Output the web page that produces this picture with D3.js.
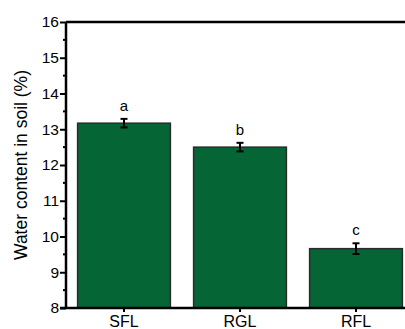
<!DOCTYPE html>
<html>
<head>
<meta charset="utf-8">
<script src="https://cdn.jsdelivr.net/npm/d3@7"></script>
<style>
  body { margin: 0; background: #fff; }
  svg { display: block; font-family: Arial, 'Liberation Sans', sans-serif; }
</style>
</head>
<body>
<svg id="chart" width="405" height="329"></svg>
<script>
// values
const groups  = ['SFL', 'RGL', 'RFL'];
const means   = [13.17, 12.50, 9.66];
const errors  = [0.12, 0.12, 0.15];
const letters = ['a', 'b', 'c'];
const yTicks  = [8, 9, 10, 11, 12, 13, 14, 15, 16];

const svg = d3.select('#chart');
const plotL = 66, plotR = 414, plotT = 22, plotB = 308;

const x = d3.scaleBand()
  .domain(groups)
  .range([plotL, plotR])
  .paddingInner(0.2)
  .paddingOuter(0.1);

const y = d3.scaleLinear()
  .domain([8, 16])
  .range([plotB, plotT]);

// bars
svg.append('g')
  .selectAll('rect')
  .data(groups)
  .join('rect')
    .attr('x', (d) => x(d))
    .attr('y', (d, i) => y(means[i]))
    .attr('width', x.bandwidth())
    .attr('height', (d, i) => plotB - y(means[i]))
    .attr('fill', '#066535')
    .attr('stroke', '#2b2b2b')
    .attr('stroke-width', 1.5);

// error bars
const err = svg.append('g')
  .attr('stroke', '#000')
  .attr('stroke-width', 2)
  .selectAll('g')
  .data(groups)
  .join('g')
    .attr('transform', (d) => `translate(${x(d) + x.bandwidth() / 2},0)`);

err.append('line')
  .attr('y1', (d, i) => y(means[i] + errors[i]))
  .attr('y2', (d, i) => y(means[i] - errors[i]));

err.append('line')
  .attr('x1', -3.5).attr('x2', 3.5)
  .attr('y1', (d, i) => y(means[i] + errors[i]))
  .attr('y2', (d, i) => y(means[i] + errors[i]));

err.append('line')
  .attr('x1', -3.5).attr('x2', 3.5)
  .attr('y1', (d, i) => y(means[i] - errors[i]))
  .attr('y2', (d, i) => y(means[i] - errors[i]));

// significance letters
svg.append('g')
  .selectAll('text')
  .data(groups)
  .join('text')
    .attr('x', (d) => x(d) + x.bandwidth() / 2)
    .attr('y', (d, i) => y(means[i] + errors[i]) - 8)
    .attr('text-anchor', 'middle')
    .attr('font-size', 15)
    .text((d, i) => letters[i]);

// y axis
const yAxis = svg.append('g')
  .attr('transform', `translate(${plotL},0)`)
  .call(d3.axisLeft(y).tickValues(yTicks).tickSize(6).tickPadding(1).tickFormat(d3.format('d')));

yAxis.append('g')
  .selectAll('line')
  .data(yTicks.slice(0, -1).map((t) => t + 0.5))
  .join('line')
    .attr('x1', -3).attr('x2', 0)
    .attr('y1', (d) => y(d))
    .attr('y2', (d) => y(d))
    .attr('stroke', '#000')
    .attr('stroke-width', 2);

yAxis.selectAll('.tick line').attr('stroke-width', 2);
yAxis.selectAll('.tick text').attr('font-size', 15.5).attr('fill', '#000');
yAxis.select('.domain').attr('stroke-width', 2.5).attr('d', `M0,${plotB}V${plotT}`);

// x axis
const xAxis = svg.append('g')
  .attr('transform', `translate(0,${plotB})`)
  .call(d3.axisBottom(x).tickSize(4).tickPadding(3.5));

xAxis.select('.domain').attr('stroke-width', 2.5).attr('d', `M${plotL - 6},0H${plotR}`);
xAxis.selectAll('.tick line').attr('stroke-width', 2);
xAxis.selectAll('.tick text').attr('font-size', 16).attr('fill', '#000');

// top frame line
svg.append('line')
  .attr('x1', plotL).attr('x2', plotR)
  .attr('y1', plotT).attr('y2', plotT)
  .attr('stroke', '#000')
  .attr('stroke-width', 2.5);

// y title
svg.append('text')
  .attr('transform', `translate(27,${(plotT + plotB) / 2}) rotate(-90)`)
  .attr('text-anchor', 'middle')
  .attr('font-size', 17.5)
  .text('Water content in soil (%)');
</script>
</body>
</html>
